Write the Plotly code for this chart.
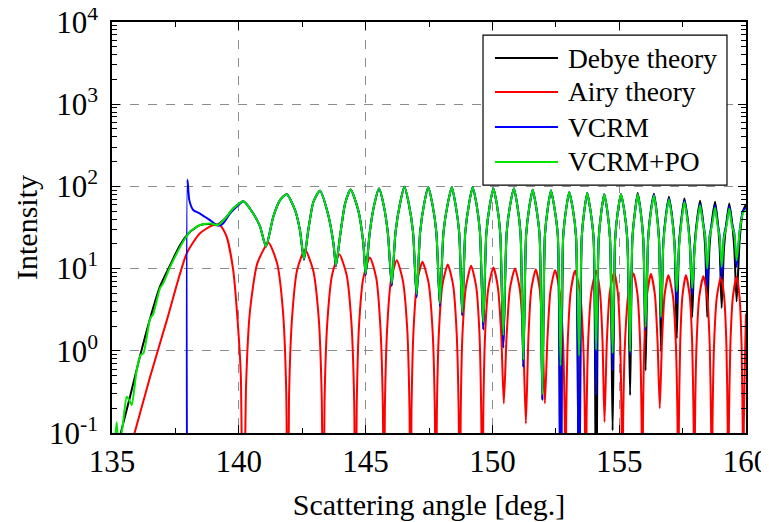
import plotly.graph_objects as go

# ---------------- data ----------------
# Intensities are stored as log10(I) values.

# Debye theory, low-angle part
debye_head_angle = [135.30, 135.35, 135.71, 136.10, 136.50, 136.89, 137.29, 137.68, 138.08,
                    138.47, 138.86, 139.13, 139.46, 139.78, 140.18]
debye_head_log = [-1.10, -1.00, -0.56, -0.07, 0.39, 0.78, 1.04, 1.285, 1.448,
                  1.529, 1.541, 1.529, 1.61, 1.73, 1.82]

# VCRM, low-angle part (starts with the geometric-optics spike)
vcrm_head_angle = [137.970, 137.975, 138.05, 138.21, 138.47, 138.86, 139.19, 139.38, 139.65, 139.98, 140.18]
vcrm_head_log = [-3.0, 2.085, 1.83, 1.71, 1.67, 1.59, 1.52, 1.55, 1.67, 1.77, 1.82]

# VCRM+PO, low-angle part
vcrm_po_head_angle = [135.12, 135.18, 135.25, 135.38, 135.58, 135.68, 135.78, 135.97, 136.13, 136.24,
                      136.50, 136.63, 136.89, 137.02, 137.29, 137.48, 137.75, 138.08, 138.47, 138.86,
                      139.19, 139.46, 139.78, 140.18]
vcrm_po_head_log = [-1.10, -0.87, -1.10, -1.00, -0.56, -0.60, -0.66, -0.24, -0.05, -0.03,
                    0.39, 0.45, 0.76, 0.82, 1.02, 1.14, 1.30, 1.45, 1.53, 1.55,
                    1.53, 1.61, 1.73, 1.82]

# common angle grid for the supernumerary-bow part (140.5 - 160 deg)
main_angle = [
    140.57, 140.84, 141.07, 141.36, 141.62, 141.89, 142.22, 142.41, 142.57, 142.74, 142.94,
    143.20, 143.53, 143.73, 143.83, 143.99, 144.19, 144.41, 144.71, 144.91, 145.00,
    145.16, 145.34, 145.53, 145.71, 145.88, 146.03,
    146.18, 146.36, 146.53, 146.70, 146.87, 147.01,
    147.15, 147.31, 147.47, 147.63, 147.79, 147.93,
    148.07, 148.24, 148.40, 148.54, 148.69, 148.81,
    148.93, 149.08, 149.22, 149.37, 149.51, 149.64,
    149.76, 149.90, 150.04, 150.18, 150.31, 150.43,
    150.56, 150.70, 150.85, 150.98, 151.11, 151.22,
    151.33, 151.46, 151.59, 151.72, 151.86, 151.97,
    152.07, 152.19, 152.31, 152.44, 152.58, 152.69,
    152.79, 152.91, 153.03, 153.17, 153.30, 153.42,
    153.52, 153.63, 153.74, 153.86, 153.99, 154.09,
    154.19, 154.30, 154.41, 154.53, 154.64, 154.74,
    154.84, 154.95, 155.07, 155.20, 155.32, 155.43,
    155.52, 155.63, 155.73, 155.84, 155.95, 156.04,
    156.14, 156.25, 156.37, 156.47, 156.57, 156.65,
    156.74, 156.85, 156.96, 157.07, 157.18, 157.27,
    157.36, 157.47, 157.57, 157.68, 157.79, 157.88,
    157.97, 158.08, 158.19, 158.29, 158.39, 158.47,
    158.56, 158.67, 158.78, 158.87, 158.96, 159.04,
    159.13, 159.24, 159.34, 159.44, 159.54, 159.63,
    159.75, 159.88, 160.00]

vcrm_po_main_log = [
    1.67, 1.51, 1.27, 1.63, 1.83, 1.906, 1.71, 1.47, 1.12, 1.47, 1.81,
    1.947, 1.65, 1.31, 1.04, 1.39, 1.79, 1.963, 1.71, 1.31, 0.94,
    1.43, 1.775, 1.975, 1.775, 1.425, 0.82,
    1.445, 1.795, 1.995, 1.795, 1.445, 0.69,
    1.44, 1.79, 1.99, 1.79, 1.44, 0.58,
    1.44, 1.79, 1.99, 1.79, 1.44, 0.47,
    1.44, 1.79, 1.99, 1.79, 1.44, 0.35,
    1.425, 1.775, 1.975, 1.775, 1.425, 0.19,
    1.425, 1.775, 1.975, 1.775, 1.425, -0.11,
    1.41, 1.76, 1.96, 1.76, 1.41, -0.53,
    1.40, 1.75, 1.95, 1.75, 1.40, -0.18,
    1.38, 1.73, 1.93, 1.73, 1.38, -0.06,
    1.37, 1.72, 1.92, 1.72, 1.37, 0.01,
    1.355, 1.705, 1.905, 1.705, 1.355, -0.03,
    1.355, 1.705, 1.905, 1.705, 1.355, -0.01,
    1.355, 1.705, 1.905, 1.705, 1.355, 0.29,
    1.34, 1.69, 1.89, 1.69, 1.34, 0.41,
    1.29, 1.64, 1.84, 1.64, 1.29, 0.72,
    1.26, 1.61, 1.81, 1.61, 1.26, 0.76,
    1.22, 1.57, 1.77, 1.57, 1.385, 1.00,
    1.37, 1.54, 1.74, 1.54, 1.38, 1.02,
    1.375, 1.53, 1.73, 1.53, 1.415, 1.10,
    1.45, 1.68, 1.71]

vcrm_main_log = [
    1.67, 1.51, 1.27, 1.63, 1.83, 1.906, 1.71, 1.47, 1.11, 1.47, 1.81,
    1.947, 1.65, 1.31, 1.03, 1.39, 1.79, 1.963, 1.71, 1.31, 0.92,
    1.43, 1.775, 1.975, 1.775, 1.425, 0.79,
    1.445, 1.795, 1.995, 1.795, 1.445, 0.65,
    1.44, 1.79, 1.99, 1.79, 1.44, 0.54,
    1.44, 1.79, 1.99, 1.79, 1.44, 0.43,
    1.44, 1.79, 1.99, 1.79, 1.44, 0.26,
    1.425, 1.775, 1.975, 1.775, 1.425, 0.04,
    1.425, 1.775, 1.975, 1.775, 1.425, -0.20,
    1.41, 1.76, 1.96, 1.76, 1.41, -0.60,
    1.40, 1.75, 1.95, 1.75, 1.40, -3.0,
    1.38, 1.73, 1.93, 1.73, 1.38, -3.0,
    1.37, 1.72, 1.92, 1.72, 1.37, -0.54,
    1.355, 1.705, 1.905, 1.705, 1.355, -0.24,
    1.355, 1.705, 1.905, 1.705, 1.355, -0.05,
    1.355, 1.705, 1.905, 1.705, 1.355, 0.25,
    1.35, 1.70, 1.90, 1.70, 1.35, 0.38,
    1.31, 1.66, 1.855, 1.66, 1.31, 0.575,
    1.28, 1.63, 1.83, 1.63, 1.28, 0.68,
    1.24, 1.59, 1.79, 1.59, 1.40, 0.78,
    1.39, 1.57, 1.77, 1.57, 1.40, 0.88,
    1.40, 1.56, 1.76, 1.56, 1.43, 1.02,
    1.46, 1.70, 1.74]

debye_main_log = [
    1.67, 1.51, 1.27, 1.63, 1.83, 1.906, 1.71, 1.47, 1.11, 1.47, 1.81,
    1.947, 1.65, 1.31, 1.03, 1.39, 1.79, 1.963, 1.71, 1.31, 0.92,
    1.43, 1.775, 1.975, 1.775, 1.425, 0.79,
    1.445, 1.795, 1.995, 1.795, 1.445, 0.65,
    1.44, 1.79, 1.99, 1.79, 1.44, 0.54,
    1.44, 1.79, 1.99, 1.79, 1.44, 0.43,
    1.44, 1.79, 1.99, 1.79, 1.44, 0.26,
    1.425, 1.775, 1.975, 1.775, 1.425, 0.04,
    1.425, 1.775, 1.975, 1.775, 1.425, -0.20,
    1.41, 1.76, 1.96, 1.76, 1.41, -0.60,
    1.40, 1.75, 1.95, 1.75, 1.40, -3.0,
    1.38, 1.73, 1.93, 1.73, 1.38, -3.0,
    1.37, 1.72, 1.92, 1.72, 1.37, -3.0,
    1.355, 1.705, 1.905, 1.705, 1.355, -0.97,
    1.355, 1.705, 1.905, 1.705, 1.355, -0.54,
    1.37, 1.72, 1.92, 1.72, 1.36, -0.24,
    1.36, 1.71, 1.91, 1.71, 1.36, -0.01,
    1.32, 1.67, 1.873, 1.67, 1.32, 0.15,
    1.30, 1.65, 1.854, 1.65, 1.30, 0.41,
    1.27, 1.62, 1.825, 1.62, 1.27, 0.41,
    1.26, 1.61, 1.813, 1.61, 1.26, 0.52,
    1.24, 1.59, 1.793, 1.59, 1.24, 0.60,
    1.35, 1.70, 1.78]

# Airy theory
airy_angle = [
    135.80, 136.50, 137.16, 137.94, 138.47, 138.99, 139.26, 139.52, 139.78, 139.98, 140.08, 140.17,
    140.28, 140.44, 140.73, 141.17, 141.51, 141.74, 141.87, 141.93,
    141.98, 142.10, 142.30, 142.61, 142.93, 143.15, 143.27, 143.33,
    143.38, 143.49, 143.68, 143.96, 144.25, 144.44, 144.55, 144.60,
    144.65, 144.74, 144.91, 145.17, 145.42, 145.58, 145.68, 145.72,
    145.76, 145.85, 146.00, 146.23, 146.47, 146.64, 146.73, 146.77,
    146.81, 146.89, 147.03, 147.24, 147.48, 147.64, 147.73, 147.77,
    147.81, 147.89, 148.03, 148.24, 148.45, 148.59, 148.67, 148.71,
    148.75, 148.82, 148.96, 149.16, 149.36, 149.49, 149.56, 149.60,
    149.64, 149.71, 149.84, 150.04, 150.22, 150.35, 150.45,
    150.56, 150.69, 150.89, 151.08, 151.21, 151.32,
    151.42, 151.53, 151.71, 151.87, 151.98, 152.07,
    152.17, 152.29, 152.47, 152.65, 152.78, 152.85, 152.88,
    152.91, 152.975, 153.09, 153.26, 153.45, 153.575, 153.646, 153.68,
    153.713, 153.78, 153.905, 154.09, 154.24, 154.34, 154.42,
    154.515, 154.63, 154.80, 154.944, 155.04, 155.094, 155.12,
    155.155, 155.23, 155.362, 155.56, 155.718, 155.823, 155.882, 155.91,
    155.937, 155.995, 156.097, 156.25, 156.408, 156.513, 156.60,
    156.685, 156.787, 156.94, 157.116, 157.233, 157.299, 157.33,
    157.354, 157.405, 157.495, 157.63, 157.779, 157.878, 157.934, 157.96,
    157.989, 158.05, 158.158, 158.32, 158.469, 158.568, 158.624, 158.65,
    158.679, 158.74, 158.848, 159.01, 159.14, 159.228, 159.277, 159.30,
    159.326, 159.383, 159.482, 159.63, 159.747, 159.825, 159.869, 159.89,
    159.915, 159.97, 160.00]
airy_log = [
    -1.10, -0.32, 0.37, 1.18, 1.43, 1.53, 1.53, 1.39, 0.98, 0.25, -0.30, -3.0,
    -0.486, 0.484, 1.064, 1.314, 1.064, 0.484, -0.486, -3.0,
    -0.567, 0.403, 0.983, 1.233, 0.983, 0.403, -0.567, -3.0,
    -0.624, 0.346, 0.926, 1.176, 0.926, 0.346, -0.624, -3.0,
    -0.664, 0.306, 0.886, 1.136, 0.886, 0.306, -0.664, -3.0,
    -0.697, 0.273, 0.853, 1.103, 0.853, 0.273, -0.697, -3.0,
    -0.718, 0.252, 0.832, 1.082, 0.832, 0.252, -0.718, -3.0,
    -0.749, 0.221, 0.801, 1.051, 0.801, 0.221, -0.749, -3.0,
    -0.766, 0.204, 0.784, 1.034, 0.784, 0.204, -0.766, -3.0,
    -0.786, 0.184, 0.764, 1.014, 0.764, 0.184, -0.64,
    0.172, 0.752, 1.002, 0.752, 0.172, -0.886,
    0.16, 0.74, 0.99, 0.74, 0.16, -0.64,
    0.15, 0.73, 0.98, 0.73, 0.15, -0.82, -3.0,
    -0.827, 0.143, 0.723, 0.973, 0.723, 0.143, -0.827, -3.0,
    -0.827, 0.143, 0.723, 0.973, 0.723, 0.143, -0.866,
    0.13, 0.71, 0.96, 0.71, 0.13, -0.84, -3.0,
    -0.859, 0.111, 0.691, 0.941, 0.691, 0.111, -0.859, -3.0,
    -0.867, 0.103, 0.683, 0.933, 0.683, 0.103, -0.70,
    0.09, 0.67, 0.92, 0.67, 0.09, -0.88, -3.0,
    -0.88, 0.09, 0.67, 0.92, 0.67, 0.09, -0.88, -3.0,
    -0.892, 0.078, 0.658, 0.908, 0.658, 0.078, -0.892, -3.0,
    -0.90, 0.07, 0.65, 0.90, 0.65, 0.07, -0.90, -3.0,
    -0.90, 0.07, 0.65, 0.90, 0.65, 0.07, -0.90, -3.0,
    -0.90, 0.07, 0.45]

x_tick_vals = [135, 140, 145, 150, 155, 160]
x_tick_text = ["135", "140", "145", "150", "155", "160"]
x_minor_vals = [137.5, 142.5, 147.5, 152.5, 157.5]
y_tick_vals = [0.1, 1, 10, 100, 1000, 10000]
y_tick_text = ["10<sup>-1</sup>", "10<sup>0</sup>", "10<sup>1</sup>",
               "10<sup>2</sup>", "10<sup>3</sup>", "10<sup>4</sup>"]
series_names = ["Debye theory", "Airy theory", "VCRM", "VCRM+PO"]
series_colors = ["#000000", "#ff0000", "#0000ff", "#00e600"]

# ---------------- figure ----------------
y_minor_vals = [k * 10.0 ** e for e in range(-1, 4) for k in range(2, 10)]

curves = [
    (debye_head_angle + main_angle, debye_head_log + debye_main_log),
    (airy_angle, airy_log),
    (vcrm_head_angle + main_angle, vcrm_head_log + vcrm_main_log),
    (vcrm_po_head_angle + main_angle, vcrm_po_head_log + vcrm_po_main_log),
]

fig = go.Figure()
for (xs, logs), name, col in zip(curves, series_names, series_colors):
    fig.add_trace(go.Scatter(
        x=xs, y=[10 ** v for v in logs], mode="lines", name=name,
        line=dict(color=col, width=2, shape="spline", smoothing=0.6),
        showlegend=False))

FONT = "Times New Roman, Liberation Serif, DejaVu Serif, serif"
fig.update_layout(
    width=761, height=514,
    margin=dict(l=104, r=23, t=14, b=89, autoexpand=False),
    plot_bgcolor="white", paper_bgcolor="white",
    font=dict(family=FONT, size=31, color="black"),
    showlegend=False,
)
fig.update_xaxes(
    range=[135, 160], tickvals=x_tick_vals, ticktext=x_tick_text,
    ticks="inside", ticklen=8, tickwidth=1.2, tickcolor="black",
    showline=True, linecolor="black", linewidth=1.5, mirror="ticks",
    showgrid=True, gridcolor="#8c8c8c", griddash="dash", gridwidth=1,
    zeroline=False, automargin=False, ticklabeloverflow="allow",
    minor=dict(tickvals=x_minor_vals, ticks="inside", ticklen=5, tickcolor="black", showgrid=False),
    title=dict(text="Scattering angle [deg.]", font=dict(family=FONT, size=30), standoff=16),
    tickfont=dict(family=FONT, size=31),
)
fig.update_yaxes(
    type="log", range=[-1, 4], tickvals=y_tick_vals, ticktext=y_tick_text,
    ticks="inside", ticklen=8, tickwidth=1.2, tickcolor="black",
    showline=True, linecolor="black", linewidth=1.5, mirror="ticks",
    showgrid=True, gridcolor="#8c8c8c", griddash="dash", gridwidth=1,
    zeroline=False, automargin=False, ticklabeloverflow="allow", ticklabelstandoff=6,
    minor=dict(tickvals=y_minor_vals, ticks="inside", ticklen=5, tickcolor="black", showgrid=False),
    title=dict(text="Intensity", font=dict(family=FONT, size=30), standoff=2),
    tickfont=dict(family=FONT, size=31),
)

# legend box drawn in paper coordinates
fig.add_shape(type="rect", xref="paper", yref="paper", x0=0.5852, x1=0.970, y0=0.603, y1=0.968,
              line=dict(color="black", width=1.2), fillcolor="white", layer="above")
row_y = [0.9124, 0.8297, 0.7445, 0.6594]
for ry, name, col in zip(row_y, series_names, series_colors):
    fig.add_shape(type="line", xref="paper", yref="paper", x0=0.604, x1=0.7035, y0=ry, y1=ry,
                  line=dict(color=col, width=2), layer="above")
    fig.add_annotation(xref="paper", yref="paper", x=0.716, y=ry, text=name, showarrow=False,
                       xanchor="left", yanchor="middle", font=dict(family=FONT, size=27.5, color="black"))

fig.write_html("out.html")
